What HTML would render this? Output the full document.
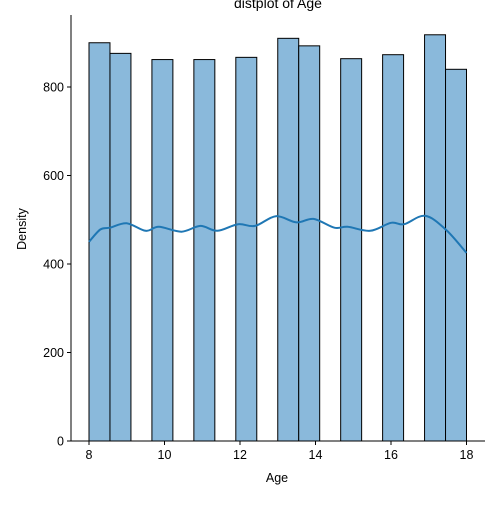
<!DOCTYPE html>
<html><head><meta charset="utf-8"><style>
body{margin:0;background:#fff;font-family:"Liberation Sans",sans-serif}
</style></head><body>
<svg id="c" width="500" height="500" xmlns="http://www.w3.org/2000/svg">
<text x="278" y="8" font-size="14" text-anchor="middle">distplot of Age</text>
<g id="bars"></g>
<g id="kde"></g>
<g id="axes"></g>
</svg>
<script>
const binStart = 8, binEnd = 18, nBins = 18;
const counts = [900,876,0,862,0,862,0,867,0,910,893,0,864,0,873,0,918,840];
const kdeX = [8,8.3,8.55,9,9.5,9.85,10.45,10.95,11.4,11.95,12.4,12.95,13.5,13.95,14.5,14.85,15.45,16,16.35,16.9,17.45,18];
const kdeY = [450,478,482,492,475,484,473,486,475,490,486,508,494,502,482,484,475,493,490,509,478,425];
const xTicks = [8,10,12,14,16,18];
const yTicks = [0,200,400,600,800];
const L=71,R=485,T=15,B=441;
const xs = v => 89 + (v-8)*37.75;
const ys = v => B - v*0.4425;
const NS="http://www.w3.org/2000/svg";
function mk(t,a,p){const e=document.createElementNS(NS,t);for(const k in a)e.setAttribute(k,a[k]);p.appendChild(e);return e;}
const bars=document.getElementById('bars');
const w=(binEnd-binStart)/nBins;
counts.forEach((c,i)=>{ if(!c)return;
  const x0=xs(binStart+i*w),x1=xs(binStart+(i+1)*w);
  const r=mk('rect',{x:x0,y:ys(c),width:x1-x0,height:B-ys(c),fill:'#8ab9db',stroke:'#000','stroke-width':1},bars);
  
  
});
const kde=document.getElementById('kde');
const P=kdeX.map((x,i)=>[xs(x),ys(kdeY[i])]);
let d='M'+P[0][0].toFixed(1)+','+P[0][1].toFixed(1);
for(let i=0;i<P.length-1;i++){
  const p0=P[Math.max(0,i-1)],p1=P[i],p2=P[i+1],p3=P[Math.min(P.length-1,i+2)];
  const c1=[p1[0]+(p2[0]-p0[0])/6,p1[1]+(p2[1]-p0[1])/6];
  const c2=[p2[0]-(p3[0]-p1[0])/6,p2[1]-(p3[1]-p1[1])/6];
  d+=` C${c1[0].toFixed(1)},${c1[1].toFixed(1)} ${c2[0].toFixed(1)},${c2[1].toFixed(1)} ${p2[0].toFixed(1)},${p2[1].toFixed(1)}`;
}
const p=mk('path',{d:d,fill:'none',stroke:'#1f77b4','stroke-width':2,'stroke-linejoin':'round'},kde);


const ax=document.getElementById('axes');
const la=mk('line',{x1:L,y1:T,x2:L,y2:B,stroke:'#000','stroke-width':1},ax);


const ba=mk('line',{x1:L,y1:B,x2:R,y2:B,stroke:'#000','stroke-width':1},ax);


xTicks.forEach(t=>{
  mk('line',{x1:xs(t),y1:B,x2:xs(t),y2:B+4,stroke:'#000'},ax);
  const tx=mk('text',{x:xs(t),y:B+18,'font-size':12.5,'text-anchor':'middle'},ax);
  tx.textContent=t;
  
  
});
yTicks.forEach(t=>{
  mk('line',{x1:L-4,y1:ys(t),x2:L,y2:ys(t),stroke:'#000'},ax);
  const tx=mk('text',{x:L-7,y:ys(t)+4.5,'font-size':12.5,'text-anchor':'end'},ax);
  tx.textContent=t;
  
  
});
const xt=mk('text',{x:277,y:482,'font-size':12.5,'text-anchor':'middle'},ax);
xt.textContent='Age';


const yt=mk('text',{x:26,y:229,'font-size':12.5,'text-anchor':'middle',transform:'rotate(-90 26 229)'},ax);
yt.textContent='Density';


</script>
</body></html>
